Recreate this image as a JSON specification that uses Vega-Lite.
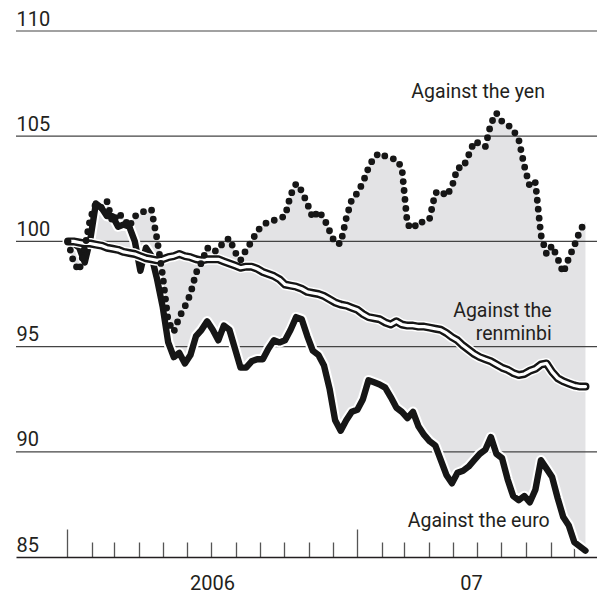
{
  "$schema": "https://vega.github.io/schema/vega-lite/v6.json",
  "width": 581,
  "height": 526,
  "autosize": {"type": "none"},
  "padding": {"left": 16, "top": 31, "right": 0, "bottom": 51},
  "background": "white",
  "config": {
    "view": {"stroke": null},
    "axis": {"labelFont": "Roboto", "labelFontSize": 20, "labelColor": "#231f20"}
  },
  "datasets": {
    "series": [
      {"date": "2006-01-02", "yen": 100.0, "rmb": 100.0, "euro": 100.0},
      {"date": "2006-01-09", "yen": 99.0, "rmb": 100.0, "euro": 99.9},
      {"date": "2006-01-16", "yen": 98.6, "rmb": 99.95, "euro": 99.7},
      {"date": "2006-01-23", "yen": 99.7, "rmb": 99.9, "euro": 99.0},
      {"date": "2006-01-30", "yen": 101.1, "rmb": 99.9, "euro": 100.1},
      {"date": "2006-02-06", "yen": 101.8, "rmb": 99.85, "euro": 101.8},
      {"date": "2006-02-13", "yen": 101.6, "rmb": 99.8, "euro": 101.6},
      {"date": "2006-02-20", "yen": 101.9, "rmb": 99.7, "euro": 101.2},
      {"date": "2006-02-27", "yen": 100.9, "rmb": 99.65, "euro": 101.2},
      {"date": "2006-03-06", "yen": 101.35, "rmb": 99.6, "euro": 100.7},
      {"date": "2006-03-13", "yen": 101.1, "rmb": 99.5, "euro": 100.8},
      {"date": "2006-03-20", "yen": 100.7, "rmb": 99.45, "euro": 100.7},
      {"date": "2006-03-27", "yen": 101.2, "rmb": 99.4, "euro": 100.0},
      {"date": "2006-04-03", "yen": 101.3, "rmb": 99.3, "euro": 98.6},
      {"date": "2006-04-10", "yen": 101.5, "rmb": 99.2, "euro": 99.7},
      {"date": "2006-04-17", "yen": 101.5, "rmb": 99.15, "euro": 99.3},
      {"date": "2006-04-24", "yen": 100.1, "rmb": 99.1, "euro": 98.2},
      {"date": "2006-05-01", "yen": 98.4, "rmb": 99.15, "euro": 96.9},
      {"date": "2006-05-08", "yen": 96.2, "rmb": 99.25, "euro": 95.2},
      {"date": "2006-05-15", "yen": 95.7, "rmb": 99.3, "euro": 94.5},
      {"date": "2006-05-22", "yen": 96.4, "rmb": 99.4, "euro": 94.7},
      {"date": "2006-05-29", "yen": 96.9, "rmb": 99.3, "euro": 94.2},
      {"date": "2006-06-05", "yen": 97.5, "rmb": 99.25, "euro": 94.6},
      {"date": "2006-06-12", "yen": 98.5, "rmb": 99.15, "euro": 95.5},
      {"date": "2006-06-19", "yen": 99.0, "rmb": 99.1, "euro": 95.8},
      {"date": "2006-06-26", "yen": 99.7, "rmb": 99.15, "euro": 96.2},
      {"date": "2006-07-03", "yen": 99.5, "rmb": 99.15, "euro": 95.8},
      {"date": "2006-07-10", "yen": 99.6, "rmb": 99.15, "euro": 95.3},
      {"date": "2006-07-17", "yen": 100.0, "rmb": 99.05, "euro": 96.0},
      {"date": "2006-07-24", "yen": 100.15, "rmb": 98.95, "euro": 95.8},
      {"date": "2006-07-31", "yen": 99.5, "rmb": 98.85, "euro": 94.9},
      {"date": "2006-08-07", "yen": 99.1, "rmb": 98.75, "euro": 94.0},
      {"date": "2006-08-14", "yen": 99.6, "rmb": 98.8, "euro": 94.0},
      {"date": "2006-08-21", "yen": 100.0, "rmb": 98.8, "euro": 94.3},
      {"date": "2006-08-28", "yen": 100.5, "rmb": 98.7, "euro": 94.4},
      {"date": "2006-09-04", "yen": 100.75, "rmb": 98.55, "euro": 94.4},
      {"date": "2006-09-11", "yen": 100.95, "rmb": 98.45, "euro": 94.9},
      {"date": "2006-09-18", "yen": 101.0, "rmb": 98.35, "euro": 95.3},
      {"date": "2006-09-25", "yen": 101.1, "rmb": 98.2, "euro": 95.2},
      {"date": "2006-10-02", "yen": 101.2, "rmb": 97.95, "euro": 95.3},
      {"date": "2006-10-09", "yen": 102.2, "rmb": 97.9, "euro": 95.8},
      {"date": "2006-10-16", "yen": 102.75, "rmb": 97.85, "euro": 96.4},
      {"date": "2006-10-23", "yen": 102.4, "rmb": 97.75, "euro": 96.3},
      {"date": "2006-10-30", "yen": 101.8, "rmb": 97.6, "euro": 95.5},
      {"date": "2006-11-06", "yen": 101.1, "rmb": 97.55, "euro": 94.8},
      {"date": "2006-11-13", "yen": 101.45, "rmb": 97.5, "euro": 94.6},
      {"date": "2006-11-20", "yen": 101.1, "rmb": 97.4, "euro": 94.1},
      {"date": "2006-11-27", "yen": 100.5, "rmb": 97.25, "euro": 93.0},
      {"date": "2006-12-04", "yen": 99.9, "rmb": 97.1, "euro": 91.5},
      {"date": "2006-12-11", "yen": 99.9, "rmb": 97.0, "euro": 91.0},
      {"date": "2006-12-18", "yen": 101.1, "rmb": 96.95, "euro": 91.5},
      {"date": "2006-12-25", "yen": 102.0, "rmb": 96.85, "euro": 91.9},
      {"date": "2007-01-01", "yen": 102.3, "rmb": 96.75, "euro": 92.0},
      {"date": "2007-01-08", "yen": 102.8, "rmb": 96.55, "euro": 92.5},
      {"date": "2007-01-15", "yen": 103.5, "rmb": 96.4, "euro": 93.4},
      {"date": "2007-01-22", "yen": 104.0, "rmb": 96.35, "euro": 93.3},
      {"date": "2007-01-29", "yen": 104.2, "rmb": 96.3, "euro": 93.2},
      {"date": "2007-02-05", "yen": 104.05, "rmb": 96.15, "euro": 93.05},
      {"date": "2007-02-12", "yen": 103.95, "rmb": 96.05, "euro": 92.6},
      {"date": "2007-02-19", "yen": 103.9, "rmb": 96.2, "euro": 92.1},
      {"date": "2007-02-26", "yen": 103.5, "rmb": 96.05, "euro": 91.9},
      {"date": "2007-03-05", "yen": 100.8, "rmb": 96.0, "euro": 91.6},
      {"date": "2007-03-12", "yen": 100.6, "rmb": 96.0, "euro": 91.9},
      {"date": "2007-03-19", "yen": 100.95, "rmb": 95.95, "euro": 91.2},
      {"date": "2007-03-26", "yen": 100.9, "rmb": 95.95, "euro": 90.8},
      {"date": "2007-04-02", "yen": 101.1, "rmb": 95.9, "euro": 90.5},
      {"date": "2007-04-09", "yen": 102.3, "rmb": 95.85, "euro": 90.3},
      {"date": "2007-04-16", "yen": 102.4, "rmb": 95.8, "euro": 89.6},
      {"date": "2007-04-23", "yen": 102.15, "rmb": 95.65, "euro": 88.9},
      {"date": "2007-04-30", "yen": 102.6, "rmb": 95.45, "euro": 88.5},
      {"date": "2007-05-07", "yen": 103.5, "rmb": 95.3, "euro": 89.0},
      {"date": "2007-05-14", "yen": 103.5, "rmb": 95.05, "euro": 89.1},
      {"date": "2007-05-21", "yen": 104.1, "rmb": 94.85, "euro": 89.3},
      {"date": "2007-05-28", "yen": 104.75, "rmb": 94.65, "euro": 89.6},
      {"date": "2007-06-04", "yen": 104.65, "rmb": 94.5, "euro": 89.9},
      {"date": "2007-06-11", "yen": 104.5, "rmb": 94.4, "euro": 90.1},
      {"date": "2007-06-18", "yen": 105.6, "rmb": 94.3, "euro": 90.7},
      {"date": "2007-06-25", "yen": 106.1, "rmb": 94.15, "euro": 89.9},
      {"date": "2007-07-02", "yen": 105.7, "rmb": 94.0, "euro": 89.7},
      {"date": "2007-07-09", "yen": 105.55, "rmb": 93.9, "euro": 88.7},
      {"date": "2007-07-16", "yen": 105.3, "rmb": 93.75, "euro": 87.9},
      {"date": "2007-07-23", "yen": 104.85, "rmb": 93.65, "euro": 87.7},
      {"date": "2007-07-30", "yen": 103.6, "rmb": 93.7, "euro": 87.9},
      {"date": "2007-08-06", "yen": 102.6, "rmb": 93.85, "euro": 87.6},
      {"date": "2007-08-13", "yen": 102.8, "rmb": 93.95, "euro": 88.2},
      {"date": "2007-08-20", "yen": 100.3, "rmb": 94.15, "euro": 89.6},
      {"date": "2007-08-27", "yen": 99.4, "rmb": 94.2, "euro": 89.2},
      {"date": "2007-09-03", "yen": 99.8, "rmb": 93.8, "euro": 88.8},
      {"date": "2007-09-10", "yen": 99.2, "rmb": 93.5, "euro": 87.8},
      {"date": "2007-09-17", "yen": 98.5, "rmb": 93.35, "euro": 86.9},
      {"date": "2007-09-24", "yen": 99.2, "rmb": 93.25, "euro": 86.5},
      {"date": "2007-10-01", "yen": 99.8, "rmb": 93.15, "euro": 85.7},
      {"date": "2007-10-08", "yen": 100.5, "rmb": 93.1, "euro": 85.5},
      {"date": "2007-10-15", "yen": 100.95, "rmb": 93.1, "euro": 85.3}
    ],
    "grid": [
      {"level": 90}, {"level": 95}, {"level": 100}, {"level": 105}, {"level": 110}
    ],
    "notes": [
      {"date": "2007-08-25T00:00:00Z", "v": 106.83, "label": "Against the yen"},
      {"date": "2007-09-02T12:00:00Z", "v": 96.43, "label": "Against the"},
      {"date": "2007-09-02T12:00:00Z", "v": 95.32, "label": "renminbi"},
      {"date": "2007-08-31T00:00:00Z", "v": 86.43, "label": "Against the euro"}
    ]
  },
  "data": {"name": "series"},
  "layer": [
    {
      "transform": [
        {"fold": ["yen", "rmb", "euro"], "as": ["series", "value"]},
        {"aggregate": [
          {"op": "max", "field": "value", "as": "hi"},
          {"op": "min", "field": "value", "as": "lo"}
        ], "groupby": ["date"]}
      ],
      "mark": {"type": "area", "color": "#e3e3e5", "interpolate": "linear"},
      "encoding": {
        "x": {
          "field": "date", "type": "temporal", "title": null,
          "scale": {"type": "utc", "domain": [
            {"year": 2005, "month": 10, "date": 28, "hours": 12, "utc": true},
            {"year": 2007, "month": 10, "date": 29, "hours": 12, "utc": true}
          ]},
          "axis": {
            "grid": false,
            "domain": true, "domainColor": "#231f20", "domainWidth": 1.5,
            "tickCount": 200,
            "values": [
              {"year": 2006, "month": 1, "date": 1, "utc": true},
              {"year": 2006, "month": 2, "date": 1, "utc": true},
              {"year": 2006, "month": 3, "date": 1, "utc": true},
              {"year": 2006, "month": 4, "date": 1, "utc": true},
              {"year": 2006, "month": 5, "date": 1, "utc": true},
              {"year": 2006, "month": 6, "date": 1, "utc": true},
              {"year": 2006, "month": 7, "date": 1, "utc": true},
              {"year": 2006, "month": 7, "date": 2, "utc": true},
              {"year": 2006, "month": 8, "date": 1, "utc": true},
              {"year": 2006, "month": 9, "date": 1, "utc": true},
              {"year": 2006, "month": 10, "date": 1, "utc": true},
              {"year": 2006, "month": 11, "date": 1, "utc": true},
              {"year": 2006, "month": 12, "date": 1, "utc": true},
              {"year": 2007, "month": 1, "date": 1, "utc": true},
              {"year": 2007, "month": 2, "date": 1, "utc": true},
              {"year": 2007, "month": 3, "date": 1, "utc": true},
              {"year": 2007, "month": 4, "date": 1, "utc": true},
              {"year": 2007, "month": 5, "date": 1, "utc": true},
              {"year": 2007, "month": 5, "date": 24, "utc": true},
              {"year": 2007, "month": 6, "date": 1, "utc": true},
              {"year": 2007, "month": 7, "date": 1, "utc": true},
              {"year": 2007, "month": 8, "date": 1, "utc": true},
              {"year": 2007, "month": 9, "date": 1, "utc": true},
              {"year": 2007, "month": 10, "date": 1, "utc": true}
            ],
            "tickColor": "#555555",
            "tickWidth": 1.3,
            "tickSize": {"condition": {"test": "utcmonth(datum.value) === 0 && utcdate(datum.value) === 1", "value": -28}, "value": -15},
            "tickOpacity": {"condition": {"test": "utcdate(datum.value) !== 1", "value": 0}, "value": 1},
            "labelExpr": "utcdate(datum.value) === 2 ? '2006' : (utcdate(datum.value) === 24 ? '07' : '')",
            "labelOverlap": false,
            "labelFlush": false,
            "labelBound": false,
            "labelPadding": 31
          }
        },
        "y": {
          "field": "hi", "type": "quantitative", "title": null,
          "scale": {"domain": [85, 110], "nice": false, "zero": false},
          "axis": {
            "values": [85, 90, 95, 100, 105, 110],
            "grid": false, "ticks": false, "domain": false,
            "labelAlign": "left", "labelBaseline": "alphabetic",
            "labelPadding": 0, "labelOffset": -6
          }
        },
        "y2": {"field": "lo"}
      }
    },
    {
      "data": {"name": "grid"},
      "mark": {"type": "rule", "color": "#444444", "strokeWidth": 1.2},
      "encoding": {
        "y": {"field": "level", "type": "quantitative", "title": null}
      }
    },
    {
      "mark": {"type": "line", "color": "white", "strokeWidth": 10.5, "strokeJoin": "round", "strokeCap": "round"},
      "encoding": {
        "x": {"field": "date", "type": "temporal", "title": null, "scale": {"type": "utc"}},
        "y": {"field": "euro", "type": "quantitative", "title": null}
      }
    },
    {
      "mark": {"type": "line", "color": "#161616", "strokeWidth": 6.4, "strokeJoin": "round", "strokeCap": "round"},
      "encoding": {
        "x": {"field": "date", "type": "temporal", "title": null, "scale": {"type": "utc"}},
        "y": {"field": "euro", "type": "quantitative", "title": null}
      }
    },
    {
      "mark": {"type": "line", "color": "white", "strokeWidth": 11, "strokeJoin": "round", "strokeCap": "round"},
      "encoding": {
        "x": {"field": "date", "type": "temporal", "title": null, "scale": {"type": "utc"}},
        "y": {"field": "rmb", "type": "quantitative", "title": null}
      }
    },
    {
      "mark": {"type": "line", "color": "#161616", "strokeWidth": 8, "strokeJoin": "round", "strokeCap": "round"},
      "encoding": {
        "x": {"field": "date", "type": "temporal", "title": null, "scale": {"type": "utc"}},
        "y": {"field": "rmb", "type": "quantitative", "title": null}
      }
    },
    {
      "mark": {"type": "line", "color": "white", "strokeWidth": 3.2, "strokeJoin": "round", "strokeCap": "round"},
      "encoding": {
        "x": {"field": "date", "type": "temporal", "title": null, "scale": {"type": "utc"}},
        "y": {"field": "rmb", "type": "quantitative", "title": null}
      }
    },
    {
      "mark": {"type": "line", "color": "#161616", "strokeWidth": 6.8, "strokeCap": "round", "strokeJoin": "round", "strokeDash": [0, 9]},
      "encoding": {
        "x": {"field": "date", "type": "temporal", "title": null, "scale": {"type": "utc"}},
        "y": {"field": "yen", "type": "quantitative", "title": null}
      }
    },
    {
      "data": {"name": "notes"},
      "mark": {"type": "text", "align": "right", "baseline": "alphabetic", "font": "Roboto", "fontSize": 19.5, "color": "#231f20"},
      "encoding": {
        "x": {"field": "date", "type": "temporal", "title": null, "scale": {"type": "utc"}},
        "y": {"field": "v", "type": "quantitative", "title": null},
        "text": {"field": "label"}
      }
    }
  ]
}
